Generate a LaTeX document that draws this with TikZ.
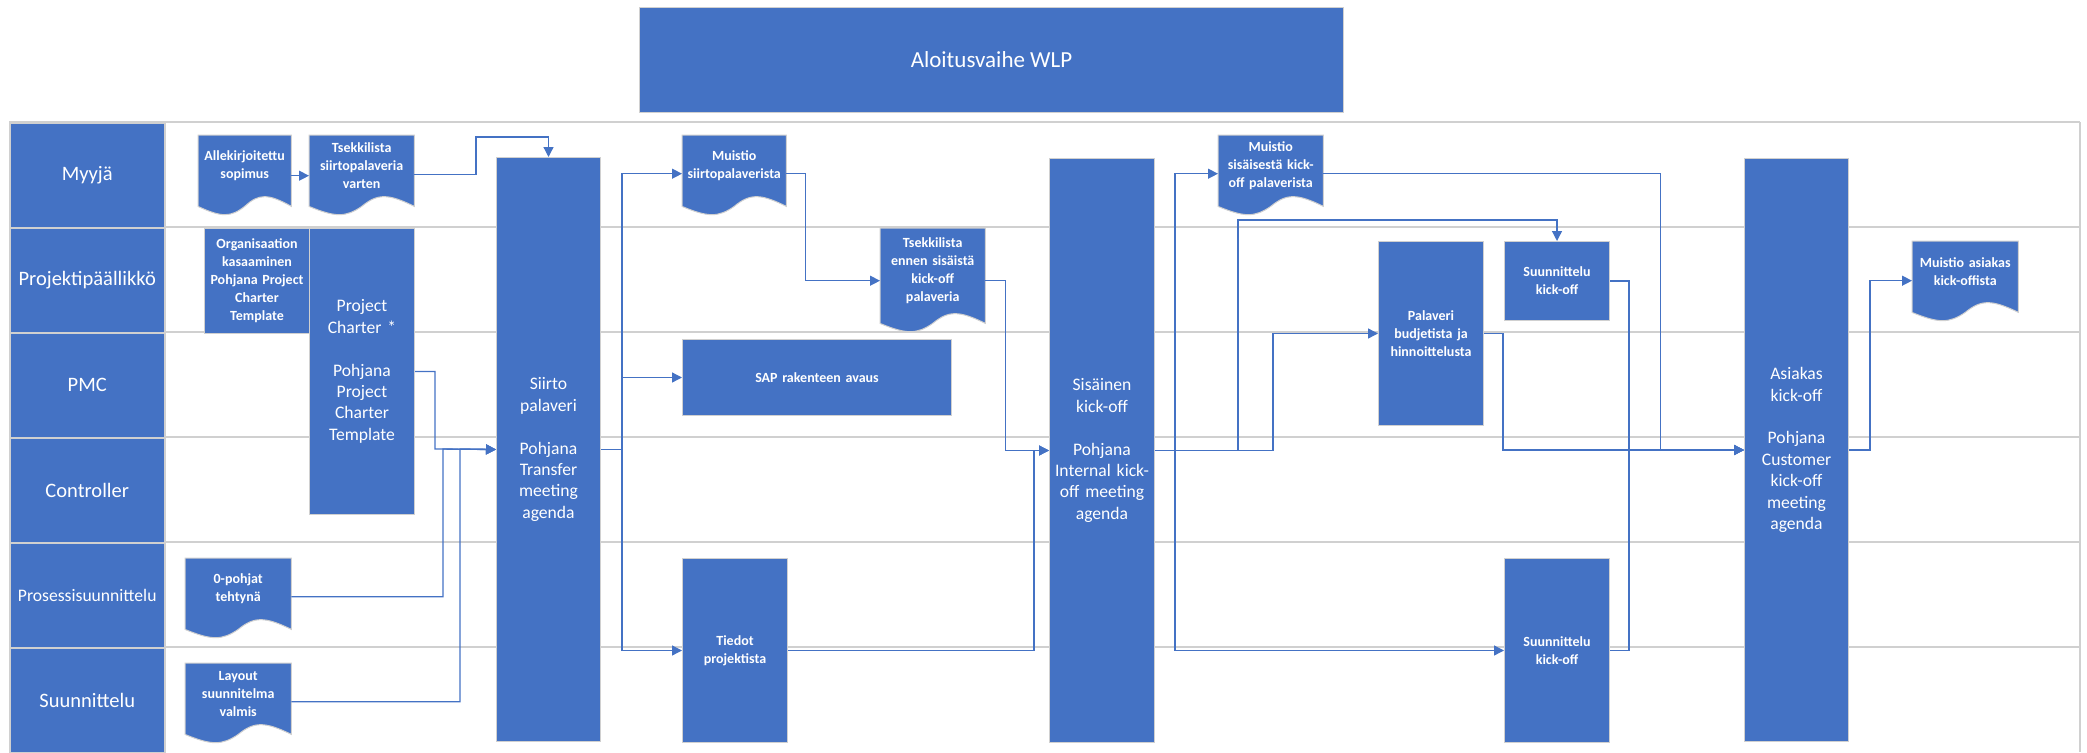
\documentclass[tikz,border=0pt]{standalone}
\usepackage{fontspec}
\setmainfont{Carlito}
\usepackage{tikz}
\usetikzlibrary{arrows.meta}
\usetikzlibrary{calc,backgrounds}

\definecolor{wlpblue}{HTML}{4472C4}
\definecolor{lanegray}{HTML}{D0D0D0}

\newcommand{\wlpsmall}{\fontsize{14}{18}\selectfont\bfseries}
\newcommand{\wlpbig}{\fontsize{17.6}{21.4}\selectfont}
\newcommand{\wlplane}{\fontsize{20.5}{24}\selectfont}

\newcommand{\docshape}[1]{%
  \begin{scope}[on background layer]
    \path (#1.south west) ++(0,10) coordinate (#1-l)
          (#1.south east) ++(0,10) coordinate (#1-r);
    \filldraw[fill=wlpblue, draw=lanegray, line width=1pt]
      (#1.north west) -- (#1.north east) -- (#1-r)
      .. controls ($(#1-l)!0.75!(#1-r)+(0,-13)$) and ($(#1-l)!0.65!(#1-r)+(0,-13)$) .. ($(#1-l)!0.5!(#1-r)$)
      .. controls ($(#1-l)!0.35!(#1-r)+(0,11)$) and ($(#1-l)!0.25!(#1-r)+(0,11)$) .. (#1-l)
      -- cycle;
  \end{scope}}

\begin{document}
\begin{tikzpicture}[x=1pt, y=-1pt,
    lane/.style={fill=wlpblue, draw=lanegray, line width=1.5pt, anchor=north west,
      minimum width=155pt, minimum height=105pt, inner sep=0pt, text=white, font=\wlplane},
    laneline/.style={draw=lanegray, line width=1.5pt},
    box/.style={fill=wlpblue, draw=lanegray, line width=1pt, anchor=north west,
      inner sep=0pt, align=center, text=white, font=\wlpsmall},
    bigbox/.style={box, font=\wlpbig},
    doc/.style={anchor=north west, inner sep=0pt, align=center, text=white,
      font=\wlpsmall, minimum height=61pt},
    conn/.style={draw=wlpblue, line width=1.3pt},
    flow/.style={conn, -{Triangle[length=10pt, width=10pt]}}]

  \useasboundingbox (0,0) rectangle (2087,752);

  \node[fill=wlpblue, draw=lanegray, line width=1pt, anchor=north west, minimum width=704pt,
    minimum height=105pt, text=white, font=\fontsize{23}{28}\selectfont] (title) at (639,7) {Aloitusvaihe WLP};

  \foreach \y in {122,227,332,437,542,647}
    \draw[laneline] (9,\y) -- (2080,\y);
  \draw[laneline] (2080,122) -- (2080,752);

  \foreach \name/\txt [count=\i] in {myyja/Myyjä, pp/Projektipäällikkö, pmc/PMC, ctrl/Controller,
      proses/{\fontsize{17.6}{21}\selectfont Prosessisuunnittelu}, suunn/Suunnittelu}
    \node[lane] (\name) at (9, {122+105*(\i-1)}) {\txt};

  \node[doc, minimum width=93pt, text width=93pt] (sopimus) at (198,135) {Allekirjoitettu\\sopimus};
  \node[doc, minimum width=105pt, text width=105pt] (tsek1) at (309,135) {Tsekkilista\\siirtopalaveria\\varten};
  \node[doc, minimum width=104pt, text width=104pt] (muistio1) at (682,135) {Muistio\\siirtopalaverista};
  \node[doc, minimum width=105pt, text width=105pt, minimum height=85pt] (tsek2) at (880,228)
    {Tsekkilista\\ennen sisäistä\\kick-off\\palaveria};
  \node[doc, minimum width=105pt, text width=105pt] (muistio2) at (1218,135) {Muistio\\sisäisestä kick-\\off palaverista};
  \node[doc, minimum width=106pt, text width=106pt] (muistio3) at (1912,241) {Muistio asiakas\\kick-offista};
  \node[doc, minimum width=106pt, text width=106pt] (pohjat) at (185,558) {0-pohjat\\tehtynä};
  \node[doc, minimum width=106pt, text width=106pt] (layout) at (185,663) {Layout\\suunnitelma\\valmis};
  \foreach \d in {sopimus,tsek1,muistio1,tsek2,muistio2,muistio3,pohjat,layout}
    \docshape{\d};

  \node[box, minimum width=105pt, minimum height=105pt, text width=103pt] (org) at (204,228)
    {Organisaation\\kasaaminen\\Pohjana Project\\Charter\\Template};
  \node[bigbox, minimum width=105pt, minimum height=286pt, text width=101pt] (charter) at (309,228)
    {Project\\Charter *\\[21.4pt]Pohjana\\Project\\Charter\\Template};
  \node[bigbox, minimum width=104pt, minimum height=584pt, text width=100pt] (siirto) at (496,157)
    {Siirto\\palaveri\\[21.4pt]Pohjana\\Transfer\\meeting\\agenda};
  \node[box, minimum width=269pt, minimum height=76pt, text width=260pt] (sap) at (682,339) {SAP rakenteen avaus};
  \node[box, minimum width=105pt, minimum height=184pt, text width=101pt] (tiedot) at (682,558) {Tiedot\\projektista};
  \node[bigbox, minimum width=105pt, minimum height=584pt, text width=101pt] (sisainen) at (1049,158)
    {Sisäinen\\kick-off\\[21.4pt]Pohjana\\Internal kick-\\off meeting\\agenda};
  \node[box, minimum width=105pt, minimum height=184pt, text width=101pt] (budjetti) at (1378,241)
    {Palaveri\\budjetista ja\\hinnoittelusta};
  \node[box, minimum width=105pt, minimum height=79pt, text width=101pt] (skick1) at (1504,241) {Suunnittelu\\kick-off};
  \node[box, minimum width=105pt, minimum height=184pt, text width=101pt] (skick2) at (1504,558) {Suunnittelu\\kick-off};
  \node[bigbox, minimum width=104pt, minimum height=583pt, text width=100pt] (asiakas) at (1744,158)
    {Asiakas\\kick-off\\[21.4pt]Pohjana\\Customer\\kick-off\\meeting\\agenda};

  \draw[flow] ([yshift=-10pt]sopimus.east) -- ([yshift=-10pt]tsek1.west);
  \draw[flow] ([yshift=-9pt]tsek1.east) -| (476,137) -| (siirto.north);
  \draw[flow] (charter.east) -| (435,449) -- (siirto.west);
  \draw[flow] ([yshift=-8pt]pohjat.east) -| (443,449) -- (siirto.west);
  \draw[flow] ([yshift=-8pt]layout.east) -| (460,449) -- (siirto.west);

  \draw[flow] (siirto.east) -- ++(21,0) |- ([yshift=-8pt]muistio1.west);
  \draw[flow] (siirto.east) -- ++(21,0) |- (sap.west);
  \draw[flow] (siirto.east) -- ++(21,0) |- (tiedot.west);
  \draw[flow] ([yshift=-8pt]muistio1.east) -- ++(19,0) |- ([yshift=-10pt]tsek2.west);
  \draw[flow] ([yshift=-10pt]tsek2.east) -- ++(20,0) |- (sisainen.west);
  \draw[flow] (tiedot.east) -- ++(246,0) |- (sisainen.west);

  \draw[flow] (sisainen.east) -- ++(20,0) |- ([yshift=-8pt]muistio2.west);
  \draw[flow] (sisainen.east) -- ++(20,0) |- (skick2.west);
  \draw[flow] (sisainen.east) -- ++(83,0) |- ([yshift=21pt]skick1.north) -- (skick1.north);
  \draw[flow] (sisainen.east) -- ++(118,0) |- (budjetti.west);

  \draw[flow] (budjetti.east) -- ++(19,0) |- (asiakas.west);
  \draw[flow] (skick1.east) -- ++(19,0) |- (asiakas.west);
  \draw[flow] (skick2.east) -- ++(19,0) |- (asiakas.west);
  \draw[flow] ([yshift=-8pt]muistio2.east) -- ++(337,0) |- (asiakas.west);
  \draw[flow] (asiakas.east) -- ++(21,0) |- ([yshift=-9pt]muistio3.west);
\end{tikzpicture}
\end{document}
